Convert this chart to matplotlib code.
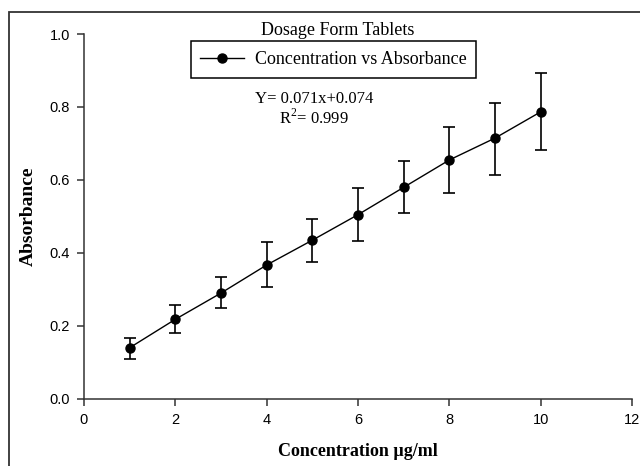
import matplotlib
matplotlib.use('Agg')
import matplotlib.pyplot as plt
from matplotlib.patches import Rectangle
from matplotlib.lines import Line2D

# data
conc = [1, 2, 3, 4, 5, 6, 7, 8, 9, 10]
absorbance = [0.140, 0.218, 0.290, 0.367, 0.435, 0.505, 0.580, 0.655, 0.715, 0.787]
err_low = [0.030, 0.038, 0.040, 0.060, 0.060, 0.073, 0.070, 0.092, 0.102, 0.105]
err_high = [0.028, 0.039, 0.043, 0.063, 0.058, 0.072, 0.072, 0.089, 0.097, 0.106]
x_ticks = [0, 2, 4, 6, 8, 10, 12]
y_ticks = [0.0, 0.2, 0.4, 0.6, 0.8, 1.0]

serif = 'Liberation Serif'
sans = 'Liberation Sans'

plt.rcParams['mathtext.fontset'] = 'custom'
plt.rcParams['mathtext.rm'] = serif

fig = plt.figure(figsize=(6.4, 4.66), dpi=100)
ax = fig.add_axes([0.131, 0.144, 0.857, 0.783])

# outer frame around the figure (clipped at right / bottom like the source)
fig.patches.append(Rectangle((9 / 640, -0.05), 1.1, 1 - 12 / 466 + 0.05,
                             transform=fig.transFigure, fill=False,
                             edgecolor='#333333', linewidth=1.3))

ax.errorbar(conc, absorbance, yerr=[err_low, err_high], color='black',
            marker='o', markersize=6.5, linewidth=1.0, elinewidth=1.2,
            capsize=4.5, capthick=1.2)

ax.set_xlim(0, 12)
ax.set_ylim(0, 1.0)
ax.set_xticks(x_ticks)
ax.set_yticks(y_ticks)
ax.set_yticklabels([f'{v:.1f}' for v in y_ticks])
for lab in ax.get_xticklabels() + ax.get_yticklabels():
    lab.set_family(sans)
    lab.set_fontsize(10.5)
ax.tick_params(direction='out', length=5, width=1.1, color='#333333', pad=5)

for s in ['top', 'right']:
    ax.spines[s].set_visible(False)
for s in ['left', 'bottom']:
    ax.spines[s].set_linewidth(1.1)
    ax.spines[s].set_color('#333333')

ax.set_xlabel('Concentration µg/ml', family=serif, fontweight='bold',
              fontsize=13, labelpad=12)
ax.set_ylabel('Absorbance', family=serif, fontweight='bold',
              fontsize=14, labelpad=9)

ax.text(0.462, 1.011, 'Dosage Form Tablets', transform=ax.transAxes,
        ha='center', va='center', family=serif, fontsize=13)

handle = Line2D([], [], color='black', marker='o', markersize=6.5, linewidth=1.0)
leg = ax.legend([handle], ['Concentration vs Absorbance'], loc='upper center',
                bbox_to_anchor=(0.455, 0.981),
                prop={'family': serif, 'size': 13}, fancybox=False,
                edgecolor='black', framealpha=1, handlelength=2.4,
                handletextpad=0.6, borderpad=0.55, borderaxespad=0)
leg.get_frame().set_linewidth(1.1)

ax.text(0.42, 0.822, 'Y= 0.071x+0.074', transform=ax.transAxes,
        ha='center', va='center', family=serif, fontsize=12)
ax.text(0.42, 0.77, r'R$^{\mathrm{2}}$= 0.999', transform=ax.transAxes,
        ha='center', va='center', family=serif, fontsize=12)

fig.savefig('out.png', dpi=100)
